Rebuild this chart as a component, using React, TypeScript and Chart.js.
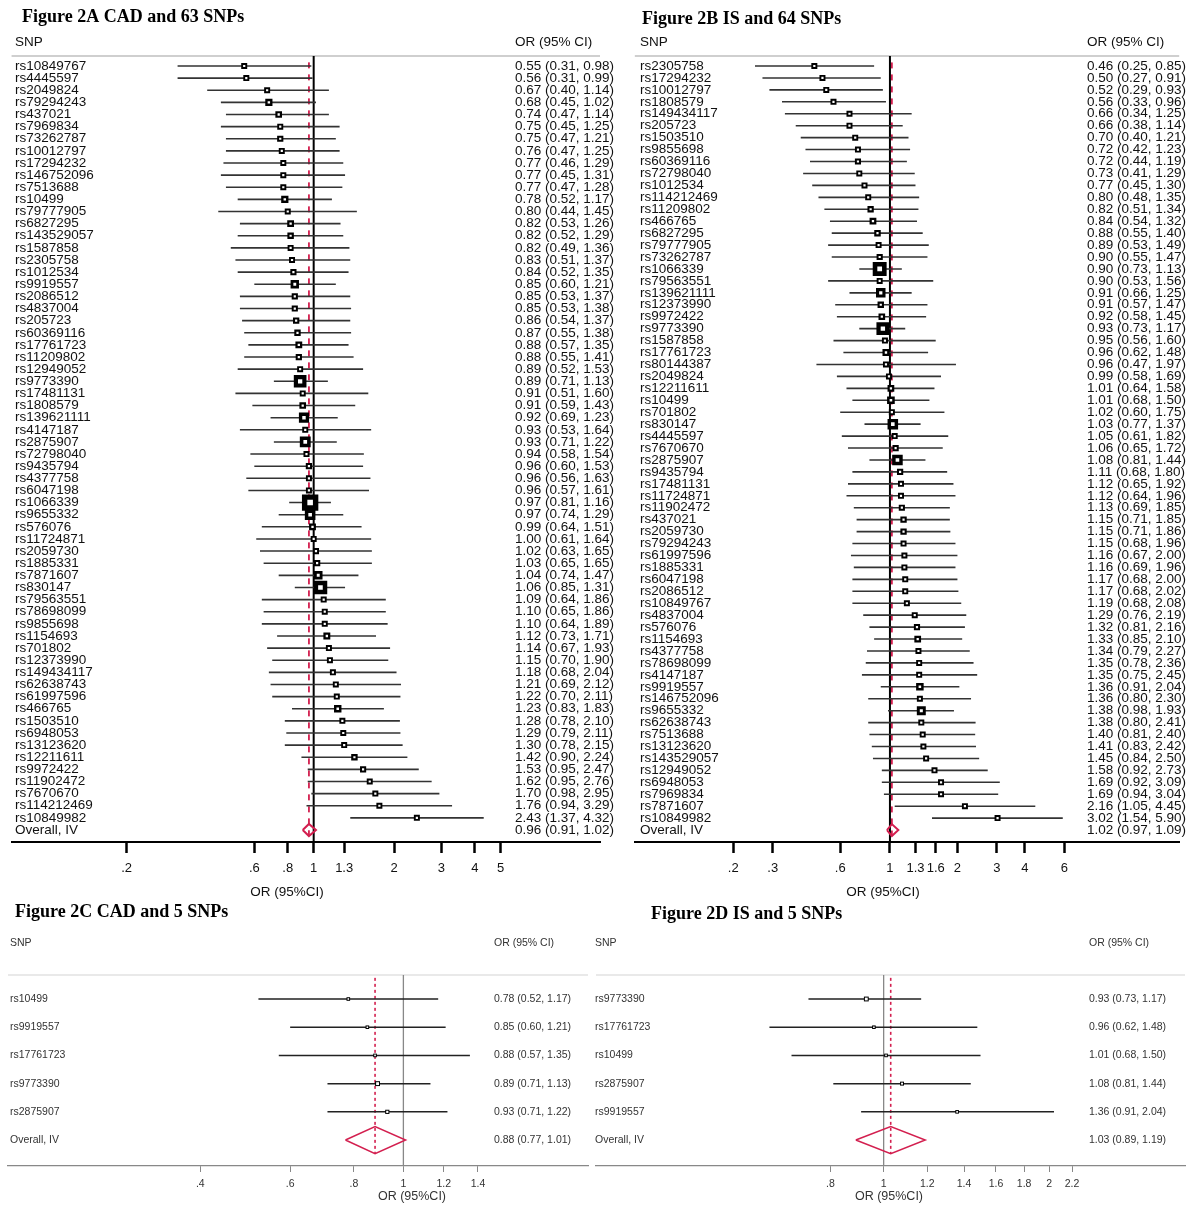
import React, { useEffect, useRef } from 'react';
import { Chart, registerables } from 'chart.js';

Chart.register(...registerables);

// ---------------- Panel A: CAD and 63 SNPs ----------------
const snpA = ['rs10849767','rs4445597','rs2049824','rs79294243','rs437021','rs7969834','rs73262787','rs10012797','rs17294232','rs146752096','rs7513688','rs10499','rs79777905','rs6827295','rs143529057','rs1587858','rs2305758','rs1012534','rs9919557','rs2086512','rs4837004','rs205723','rs60369116','rs17761723','rs11209802','rs12949052','rs9773390','rs17481131','rs1808579','rs139621111','rs4147187','rs2875907','rs72798040','rs9435794','rs4377758','rs6047198','rs1066339','rs9655332','rs576076','rs11724871','rs2059730','rs1885331','rs7871607','rs830147','rs79563551','rs78698099','rs9855698','rs1154693','rs701802','rs12373990','rs149434117','rs62638743','rs61997596','rs466765','rs1503510','rs6948053','rs13123620','rs12211611','rs9972422','rs11902472','rs7670670','rs114212469','rs10849982'];
const orA = [0.55,0.56,0.67,0.68,0.74,0.75,0.75,0.76,0.77,0.77,0.77,0.78,0.80,0.82,0.82,0.82,0.83,0.84,0.85,0.85,0.85,0.86,0.87,0.88,0.88,0.89,0.89,0.91,0.91,0.92,0.93,0.93,0.94,0.96,0.96,0.96,0.97,0.97,0.99,1.00,1.02,1.03,1.04,1.06,1.09,1.10,1.10,1.12,1.14,1.15,1.18,1.21,1.22,1.23,1.28,1.29,1.30,1.42,1.53,1.62,1.70,1.76,2.43];
const loA = [0.31,0.31,0.40,0.45,0.47,0.45,0.47,0.47,0.46,0.45,0.47,0.52,0.44,0.53,0.52,0.49,0.51,0.52,0.60,0.53,0.53,0.54,0.55,0.57,0.55,0.52,0.71,0.51,0.59,0.69,0.53,0.71,0.58,0.60,0.56,0.57,0.81,0.74,0.64,0.61,0.63,0.65,0.74,0.85,0.64,0.65,0.64,0.73,0.67,0.70,0.68,0.69,0.70,0.83,0.78,0.79,0.78,0.90,0.95,0.95,0.98,0.94,1.37];
const hiA = [0.98,0.99,1.14,1.02,1.14,1.25,1.21,1.25,1.29,1.31,1.28,1.17,1.45,1.26,1.29,1.36,1.37,1.35,1.21,1.37,1.38,1.37,1.38,1.35,1.41,1.53,1.13,1.60,1.43,1.23,1.64,1.22,1.54,1.53,1.63,1.61,1.16,1.29,1.51,1.64,1.65,1.65,1.47,1.31,1.86,1.86,1.89,1.71,1.93,1.90,2.04,2.12,2.11,1.83,2.10,2.11,2.15,2.24,2.47,2.76,2.95,3.29,4.32];
const overallA = [0.96, 0.91, 1.02];
const ticksA = [0.2, 0.6, 0.8, 1, 1.3, 2, 3, 4, 5];
const tickLabelsA = ['.2', '.6', '.8', '1', '1.3', '2', '3', '4', '5'];

// ---------------- Panel B: IS and 64 SNPs ----------------
const snpB = ['rs2305758','rs17294232','rs10012797','rs1808579','rs149434117','rs205723','rs1503510','rs9855698','rs60369116','rs72798040','rs1012534','rs114212469','rs11209802','rs466765','rs6827295','rs79777905','rs73262787','rs1066339','rs79563551','rs139621111','rs12373990','rs9972422','rs9773390','rs1587858','rs17761723','rs80144387','rs2049824','rs12211611','rs10499','rs701802','rs830147','rs4445597','rs7670670','rs2875907','rs9435794','rs17481131','rs11724871','rs11902472','rs437021','rs2059730','rs79294243','rs61997596','rs1885331','rs6047198','rs2086512','rs10849767','rs4837004','rs576076','rs1154693','rs4377758','rs78698099','rs4147187','rs9919557','rs146752096','rs9655332','rs62638743','rs7513688','rs13123620','rs143529057','rs12949052','rs6948053','rs7969834','rs7871607','rs10849982'];
const orB = [0.46,0.50,0.52,0.56,0.66,0.66,0.70,0.72,0.72,0.73,0.77,0.80,0.82,0.84,0.88,0.89,0.90,0.90,0.90,0.91,0.91,0.92,0.93,0.95,0.96,0.96,0.99,1.01,1.01,1.02,1.03,1.05,1.06,1.08,1.11,1.12,1.12,1.13,1.15,1.15,1.15,1.16,1.16,1.17,1.17,1.19,1.29,1.32,1.33,1.34,1.35,1.35,1.36,1.36,1.38,1.38,1.40,1.41,1.45,1.58,1.69,1.69,2.16,3.02];
const loB = [0.25,0.27,0.29,0.33,0.34,0.38,0.40,0.42,0.44,0.41,0.45,0.48,0.51,0.54,0.55,0.53,0.55,0.73,0.53,0.66,0.57,0.58,0.73,0.56,0.62,0.47,0.58,0.64,0.68,0.60,0.77,0.61,0.65,0.81,0.68,0.65,0.64,0.69,0.71,0.71,0.68,0.67,0.69,0.68,0.68,0.68,0.76,0.81,0.85,0.79,0.78,0.75,0.91,0.80,0.98,0.80,0.81,0.83,0.84,0.92,0.92,0.94,1.05,1.54];
const hiB = [0.85,0.91,0.93,0.96,1.25,1.14,1.21,1.23,1.19,1.29,1.30,1.35,1.34,1.32,1.40,1.49,1.47,1.13,1.56,1.25,1.47,1.45,1.17,1.60,1.48,1.97,1.69,1.58,1.50,1.75,1.37,1.82,1.72,1.44,1.80,1.92,1.96,1.85,1.85,1.86,1.96,2.00,1.96,2.00,2.02,2.08,2.19,2.16,2.10,2.27,2.36,2.45,2.04,2.30,1.93,2.41,2.40,2.42,2.50,2.73,3.09,3.04,4.45,5.90];
const overallB = [1.02, 0.97, 1.09];
const ticksB = [0.2, 0.3, 0.6, 1, 1.3, 1.6, 2, 3, 4, 6];
const tickLabelsB = ['.2', '.3', '.6', '1', '1.3', '1.6', '2', '3', '4', '6'];

// ---------------- Panel C: CAD and 5 SNPs ----------------
const snpC = ['rs10499', 'rs9919557', 'rs17761723', 'rs9773390', 'rs2875907'];
const orC = [0.78, 0.85, 0.88, 0.89, 0.93];
const loC = [0.52, 0.60, 0.57, 0.71, 0.71];
const hiC = [1.17, 1.21, 1.35, 1.13, 1.22];
const overallC = [0.88, 0.77, 1.01];
const ticksC = [0.4, 0.6, 0.8, 1, 1.2, 1.4];
const tickLabelsC = ['.4', '.6', '.8', '1', '1.2', '1.4'];

// ---------------- Panel D: IS and 5 SNPs ----------------
const snpD = ['rs9773390', 'rs17761723', 'rs10499', 'rs2875907', 'rs9919557'];
const orD = [0.93, 0.96, 1.01, 1.08, 1.36];
const loD = [0.73, 0.62, 0.68, 0.81, 0.91];
const hiD = [1.17, 1.48, 1.50, 1.44, 2.04];
const overallD = [1.03, 0.89, 1.19];
const ticksD = [0.8, 1, 1.2, 1.4, 1.6, 1.8, 2, 2.2];
const tickLabelsD = ['.8', '1', '1.2', '1.4', '1.6', '1.8', '2', '2.2'];

const RED = '#d31f4f';
const SANS = "'Liberation Sans', Arial, sans-serif";
const SERIF = "'Liberation Serif', 'Times New Roman', serif";

type Panel = {
  title: string;
  snps: string[]; or: number[]; lo: number[]; hi: number[]; overall: number[];
  ticks: number[]; tickLabels: string[];
  box: { left: number; top: number; w: number; h: number };
  pad: { left: number; right: number; top: number };
  axisH: number;
  xMin: number; xMax: number; yMin: number; yMax: number;
  titlePos: [number, number]; headerY: number; nameX: number; valX: number;
  axisTitlePos: [number, number];
  textFont: number; tickFont: number; axisTitleFont: number;
  textColor: string;
  boxK: number; boxMin: number; innerRatio: number; innerMinus: number; innerMin: number;
  diamondH: number; diamondW: number;
  ciColor: string; ciW: number;
  nullColor: string; nullW: number;
  dash: number[]; dashW: number; redTop: number;
  axisColor: string; axisW: number; tickLen: number; tickW: number; tickPad: number;
  topLineColor: string; topLineW: number;
};

const fmt = (a: number, b: number, c: number) => `${a.toFixed(2)} (${b.toFixed(2)}, ${c.toFixed(2)})`;

const panels: Panel[] = [
  {
    title: 'Figure 2A CAD and 63 SNPs',
    snps: snpA, or: orA, lo: loA, hi: hiA, overall: overallA, ticks: ticksA, tickLabels: tickLabelsA,
    box: { left: 0, top: 0, w: 625, h: 905 }, pad: { left: 8, right: 25, top: 56 }, axisH: 63,
    xMin: 0.0743, xMax: 11.75, yMin: -0.824, yMax: 63.99,
    titlePos: [22, 17], headerY: 42, nameX: 15, valX: 515, axisTitlePos: [287, 892],
    textFont: 13.5, tickFont: 13, axisTitleFont: 13.5, textColor: '#111',
    boxK: 1.5, boxMin: 6, innerRatio: 0.34, innerMinus: 0, innerMin: 2.2,
    diamondH: 0.5, diamondW: 2, ciColor: '#333', ciW: 1.6, nullColor: '#000', nullW: 2,
    dash: [6, 6], dashW: 1.8, redTop: -0.3,
    axisColor: '#000', axisW: 2, tickLen: 11, tickW: 2.5, tickPad: 8,
    topLineColor: '#cfcfcf', topLineW: 2,
  },
  {
    title: 'Figure 2B IS and 64 SNPs',
    snps: snpB, or: orB, lo: loB, hi: hiB, overall: overallB, ticks: ticksB, tickLabels: tickLabelsB,
    box: { left: 625, top: 0, w: 564, h: 905 }, pad: { left: 5, right: 0, top: 56 }, axisH: 63,
    xMin: 0.0728, xMax: 19.5, yMin: -0.838, yMax: 65.0,
    titlePos: [17, 19], headerY: 42, nameX: 15, valX: 462, axisTitlePos: [258, 892],
    textFont: 13.5, tickFont: 13, axisTitleFont: 13.5, textColor: '#111',
    boxK: 1.55, boxMin: 6, innerRatio: 0.34, innerMinus: 0, innerMin: 2.2,
    diamondH: 0.5, diamondW: 2, ciColor: '#333', ciW: 1.6, nullColor: '#000', nullW: 2,
    dash: [6, 6], dashW: 1.8, redTop: -0.3,
    axisColor: '#000', axisW: 2, tickLen: 11, tickW: 2.5, tickPad: 8,
    topLineColor: '#cfcfcf', topLineW: 2,
  },
  {
    title: 'Figure 2C CAD and 5 SNPs',
    snps: snpC, or: orC, lo: loC, hi: hiC, overall: overallC, ticks: ticksC, tickLabels: tickLabelsC,
    box: { left: 0, top: 895, w: 592, h: 311 }, pad: { left: 8, right: 0, top: 80 }, axisH: 40,
    xMin: 0.168, xMax: 2.3, yMin: -0.851, yMax: 5.92,
    titlePos: [15, 17], headerY: 48, nameX: 10, valX: 494, axisTitlePos: [412, 302],
    textFont: 10.5, tickFont: 10.5, axisTitleFont: 12.5, textColor: '#333',
    boxK: 0.58, boxMin: 3.6, innerRatio: 0, innerMinus: 2, innerMin: 1.4,
    diamondH: 0.48, diamondW: 1.5, ciColor: '#222', ciW: 1.5, nullColor: '#888', nullW: 1.3,
    dash: [3, 3], dashW: 1.6, redTop: -0.75,
    axisColor: '#888', axisW: 1.2, tickLen: 6, tickW: 1, tickPad: 6,
    topLineColor: '#e2e2e2', topLineW: 1.5,
  },
  {
    title: 'Figure 2D IS and 5 SNPs',
    snps: snpD, or: orD, lo: loD, hi: hiD, overall: overallD, ticks: ticksD, tickLabels: tickLabelsD,
    box: { left: 592, top: 895, w: 597, h: 311 }, pad: { left: 2, right: 0, top: 80 }, axisH: 40,
    xMin: 0.311, xMax: 3.53, yMin: -0.851, yMax: 5.92,
    titlePos: [59, 19], headerY: 48, nameX: 3, valX: 497, axisTitlePos: [297, 302],
    textFont: 10.5, tickFont: 10.5, axisTitleFont: 12.5, textColor: '#333',
    boxK: 0.58, boxMin: 3.6, innerRatio: 0, innerMinus: 2, innerMin: 1.4,
    diamondH: 0.48, diamondW: 1.5, ciColor: '#222', ciW: 1.5, nullColor: '#888', nullW: 1.3,
    dash: [3, 3], dashW: 1.6, redTop: -0.75,
    axisColor: '#888', axisW: 1.2, tickLen: 6, tickW: 1, tickPad: 6,
    topLineColor: '#e2e2e2', topLineW: 1.5,
  },
];

function ForestPanel({ p }: { p: Panel }) {
  const ref = useRef<HTMLCanvasElement>(null);
  useEffect(() => {
    const canvas = ref.current;
    if (!canvas) return;
    const n = p.snps.length;
    const ci: { x: number; y: number }[] = [];
    p.snps.forEach((_, i) => {
      ci.push({ x: p.lo[i], y: i }, { x: p.hi[i], y: i }, { x: NaN, y: NaN });
    });
    const sides = p.lo.map((l, i) => {
      const se = Math.log(p.hi[i] / l) / 3.92;
      return Math.max(p.boxMin, p.boxK / se);
    });
    const outerR = sides.map((s) => s / Math.SQRT2);
    const innerR = sides.map((s) => Math.max(p.innerMin, p.innerRatio > 0 ? s * p.innerRatio : s - p.innerMinus) / Math.SQRT2);
    const boxes = p.or.map((v, i) => ({ x: v, y: i }));
    const [oOr, oLo, oHi] = p.overall;
    const h = p.diamondH;
    const diamond = [
      { x: oLo, y: n }, { x: oOr, y: n - h }, { x: oHi, y: n }, { x: oOr, y: n + h }, { x: oLo, y: n },
    ];
    const nullLine = [{ x: 1, y: p.yMin }, { x: 1, y: p.yMax }];
    const redLine = [{ x: oOr, y: p.redTop }, { x: oOr, y: n + h }];

    const textPlugin = {
      id: 'forestText',
      beforeDatasetsDraw(chart: any) {
        const { ctx, chartArea } = chart;
        ctx.save();
        ctx.strokeStyle = p.topLineColor;
        ctx.lineWidth = p.topLineW;
        ctx.beginPath();
        ctx.moveTo(chartArea.left, chartArea.top);
        ctx.lineTo(chartArea.right, chartArea.top);
        ctx.stroke();
        ctx.restore();
      },
      afterDraw(chart: any) {
        const { ctx } = chart;
        const yS = chart.scales.y;
        ctx.save();
        ctx.fillStyle = '#000';
        ctx.textBaseline = 'middle';
        ctx.textAlign = 'left';
        ctx.font = `bold 18px ${SERIF}`;
        ctx.fillText(p.title, p.titlePos[0], p.titlePos[1]);
        ctx.fillStyle = p.textColor;
        ctx.font = `${p.textFont}px ${SANS}`;
        ctx.fillText('SNP', p.nameX, p.headerY);
        ctx.fillText('OR (95% CI)', p.valX, p.headerY);
        p.snps.forEach((s, i) => {
          const y = yS.getPixelForValue(i);
          ctx.fillText(s, p.nameX, y);
          ctx.fillText(fmt(p.or[i], p.lo[i], p.hi[i]), p.valX, y);
        });
        const yo = yS.getPixelForValue(n);
        ctx.fillText('Overall, IV', p.nameX, yo);
        ctx.fillText(fmt(oOr, oLo, oHi), p.valX, yo);
        ctx.font = `${p.axisTitleFont}px ${SANS}`;
        ctx.textAlign = 'center';
        ctx.fillText('OR (95%CI)', p.axisTitlePos[0], p.axisTitlePos[1]);
        ctx.restore();
      },
    };

    const chart = new Chart(canvas, {
      type: 'scatter',
      data: {
        datasets: [
          { data: boxes, pointStyle: 'rect', pointRadius: innerR, pointBackgroundColor: '#fff', pointBorderWidth: 0, order: 0 } as any,
          { data: boxes, pointStyle: 'rect', pointRadius: outerR, pointBackgroundColor: '#000', pointBorderWidth: 0, order: 1 } as any,
          { data: diamond, showLine: true, pointRadius: 0, borderColor: RED, borderWidth: p.diamondW, fill: false, order: 2 } as any,
          { data: ci, showLine: true, spanGaps: false, pointRadius: 0, borderColor: p.ciColor, borderWidth: p.ciW, fill: false, order: 3 } as any,
          { data: nullLine, showLine: true, pointRadius: 0, borderColor: p.nullColor, borderWidth: p.nullW, fill: false, order: 4 } as any,
          { data: redLine, showLine: true, pointRadius: 0, borderColor: RED, borderDash: p.dash, borderWidth: p.dashW, fill: false, order: 5 } as any,
        ],
      },
      options: {
        animation: false,
        responsive: false,
        events: [],
        layout: { padding: { left: p.pad.left, right: p.pad.right, top: p.pad.top, bottom: 0 } },
        plugins: { legend: { display: false }, tooltip: { enabled: false } },
        scales: {
          x: {
            type: 'logarithmic',
            min: p.xMin,
            max: p.xMax,
            afterBuildTicks: (s: any) => {
              s.ticks = p.ticks.map((v) => ({ value: v }));
            },
            afterFit: (s: any) => {
              s.height = p.axisH;
            },
            ticks: {
              autoSkip: false,
              maxRotation: 0,
              minRotation: 0,
              padding: p.tickPad,
              color: p.textColor,
              font: { family: SANS, size: p.tickFont },
              callback: (v: any) => {
                const k = p.ticks.findIndex((t) => Math.abs(t - Number(v)) < 1e-9);
                return k >= 0 ? p.tickLabels[k] : '';
              },
            },
            grid: {
              display: true,
              drawOnChartArea: false,
              drawTicks: true,
              tickLength: p.tickLen,
              tickWidth: p.tickW,
              tickColor: p.axisColor,
              color: p.axisColor,
            },
            border: { display: true, color: p.axisColor, width: p.axisW },
          } as any,
          y: { type: 'linear', display: false, min: p.yMin, max: p.yMax, reverse: true },
        },
      },
      plugins: [textPlugin],
    });
    return () => chart.destroy();
  }, [p]);

  return (
    <canvas
      ref={ref}
      width={p.box.w}
      height={p.box.h}
      style={{ position: 'absolute', left: p.box.left, top: p.box.top, width: p.box.w, height: p.box.h }}
    />
  );
}

export default function App() {
  return (
    <div style={{ position: 'absolute', left: 0, top: 0, width: 1189, height: 1206, background: '#fff' }}>
      {panels.map((p, i) => (
        <ForestPanel key={i} p={p} />
      ))}
    </div>
  );
}
